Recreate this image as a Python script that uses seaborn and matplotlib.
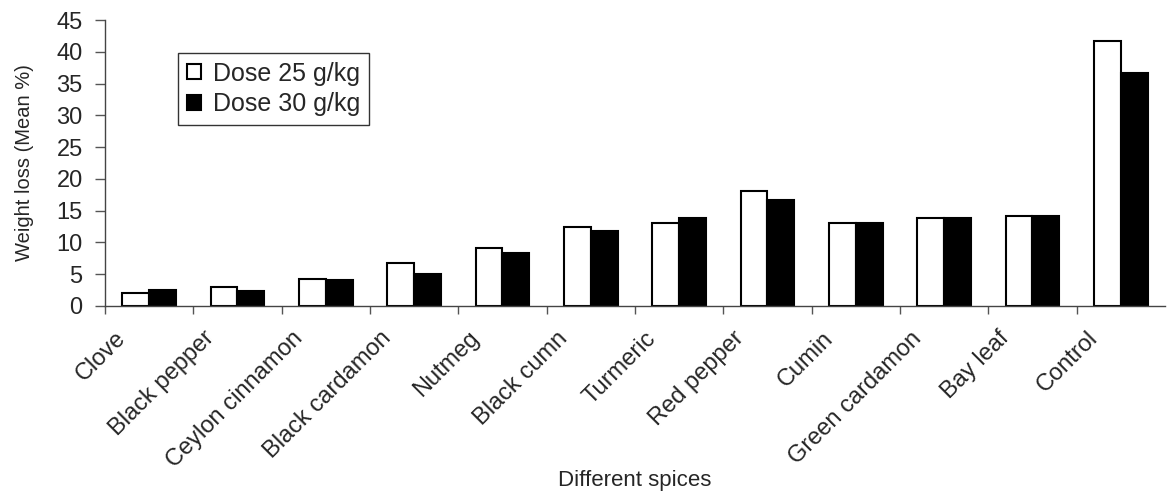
import matplotlib
matplotlib.use("Agg")
import matplotlib.pyplot as plt
import numpy as np
import pandas as pd
import seaborn as sns

# dados
spices = ['Clove', 'Black pepper', 'Ceylon cinnamon', 'Black cardamon', 'Nutmeg',
          'Black cumn', 'Turmeric', 'Red pepper', 'Cumin', 'Green cardamon',
          'Bay leaf', 'Control']
dose_25 = [2.1, 2.9, 4.3, 6.7, 9.1, 12.5, 13.1, 18.1, 13.1, 13.8, 14.2, 41.7]
dose_30 = [2.5, 2.4, 4.0, 5.1, 8.3, 11.8, 13.9, 16.6, 13.1, 13.9, 14.2, 36.7]
doses = ['Dose 25 g/kg', 'Dose 30 g/kg']
y_ticks = [0, 5, 10, 15, 20, 25, 30, 35, 40, 45]

df = pd.DataFrame({
    'spice': spices * 2,
    'dose': [doses[0]] * len(spices) + [doses[1]] * len(spices),
    'value': dose_25 + dose_30,
})

sns.set_style('white')
plt.rcParams['font.family'] = ['Liberation Sans', 'DejaVu Sans']

fig = plt.figure(figsize=(11.7, 4.91), dpi=100)
ax = fig.add_axes([0.0897, 0.377, 0.906, 0.582])

sns.barplot(data=df, x='spice', y='value', hue='dose', order=spices,
            palette={doses[0]: 'white', doses[1]: 'black'},
            edgecolor='black', linewidth=1.5, width=0.61, ax=ax)

ax.set_xlim(-0.5, 11.5)
ax.set_ylim(0, 45)
ax.set_yticks(y_ticks)
ax.tick_params(axis='y', labelsize=17, length=7, width=1, color='#555555',
               left=True, direction='out', pad=9)

# marcas nas fronteiras dos grupos, rótulos deslocados para a esquerda
pos = np.arange(len(spices))
ax.set_xticks(pos - 0.5, labels=[''] * len(spices))
ax.tick_params(axis='x', which='major', length=6, width=1, color='#555555',
               bottom=True, direction='out')
ax.set_xticks(pos - 0.30, labels=spices, minor=True)
ax.tick_params(axis='x', which='minor', length=0, pad=21, labelsize=17)
for lbl in ax.get_xticklabels(minor=True):
    lbl.set_rotation(45)
    lbl.set_ha('right')
    lbl.set_va('center')
    lbl.set_rotation_mode('anchor')

ax.set_xlabel('Different spices', fontsize=16)
ax.xaxis.set_label_coords(0.5, -0.575)
ax.set_ylabel('Weight loss (Mean %)', fontsize=14.5, labelpad=16)

for side in ['top', 'right']:
    ax.spines[side].set_visible(False)
for side in ['left', 'bottom']:
    ax.spines[side].set_color('#444444')
    ax.spines[side].set_linewidth(1)

leg = ax.legend(loc='upper left', bbox_to_anchor=(0.069, 0.885), fontsize=18,
                frameon=True, fancybox=False, edgecolor='black', borderaxespad=0,
                handlelength=0.55, handleheight=0.55, handletextpad=0.5,
                borderpad=0.35, labelspacing=0.25, title=None)
leg.get_frame().set_linewidth(1)

fig.savefig('out.png', dpi=100)
